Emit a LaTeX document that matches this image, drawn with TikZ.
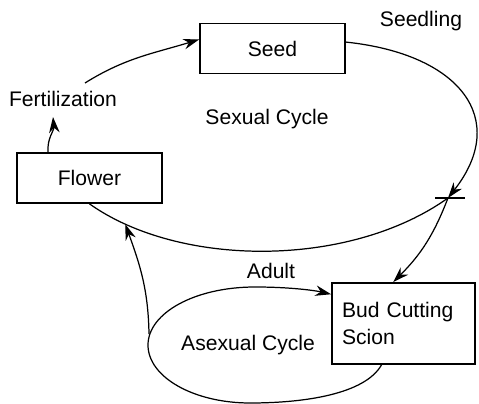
\documentclass[tikz,border=0pt]{standalone}
\usepackage{fontspec}
\setmainfont{Liberation Sans}
\usetikzlibrary{arrows.meta}

\begin{document}
\begin{tikzpicture}[font=\fontsize{12}{15.3}\selectfont,
  box/.style={draw,line width=1pt,minimum width=2.9cm,minimum height=1cm},
  link/.style={-{Stealth[length=9pt,width=6pt]},line width=0.7pt},
  arc/.style={line width=0.7pt}]
\useasboundingbox (0,0) rectangle (9.58,8.08);

\node[box] (seed) at (5.45,7.11) {Seed};
\node[box] (flower) at (1.79,4.52) {Flower};
\node[box,minimum width=2.86cm,minimum height=1.62cm,text width=2.46cm,align=left] (bud) at (8.07,1.61) {Bud Cutting\\Scion};

\node (seedling) at (8.42,7.66) {Seedling};
\node (fert) at (1.26,6.10) {Fertilization};
\node (sexual) at (5.34,5.70) {Sexual Cycle};
\node (adult) at (5.42,2.66) {Adult};
\node (asexual) at (4.96,1.18) {Asexual Cycle};

\coordinate (cross) at (8.96,4.12);
\coordinate (fertin) at (1.06,5.74);
\coordinate (fertout) at (1.7,6.42);
\coordinate (aleft) at (2.98,1.4);

\draw[link] (fertout) to[out=32,in=197] (seed.173);
\draw[link] (flower.148) to[out=95,in=-85] (fertin);
\draw[link] (seed.5) .. controls (9.2,7.0) and (10.2,5.7) .. (cross);
\draw[arc] ([xshift=-0.26cm]cross) -- ([xshift=0.34cm]cross);
\draw[arc] (flower.south) .. controls (3.6,2.72) and (7.0,2.72) .. coordinate[pos=0.12] (back) (cross);
\draw[link] (cross) to[bend left=12] (bud.104);
\draw[link] (bud.242) .. controls (7.3,0.2) and (6.1,0.02) .. (5.0,0.02)
  .. controls (3.87,0.02) and (2.96,0.54) .. (2.96,1.18)
  .. controls (2.96,1.82) and (3.9,2.34) .. (5.1,2.34)
  .. controls (5.8,2.34) and (6.3,2.27) .. (bud.158);
\draw[link] (aleft) to[out=91,in=-70] (back);
\end{tikzpicture}
\end{document}
